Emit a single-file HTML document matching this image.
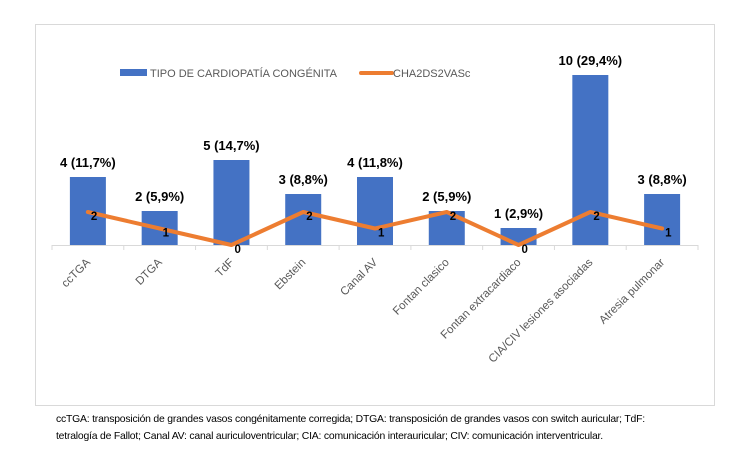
<!DOCTYPE html>
<html><head><meta charset="utf-8"><style>
body{margin:0;background:#fff;width:750px;height:469px;overflow:hidden;font-family:"Liberation Sans",sans-serif}
.cap{position:absolute;left:56px;top:411px;font-size:10.4px;color:#000;line-height:17px;width:680px;letter-spacing:-0.2px;white-space:nowrap}
</style></head><body>
<svg width="750" height="469" style="position:absolute;left:0;top:0" id="svg">
<rect x="35.5" y="24.5" width="679" height="381" fill="#fff" stroke="#d9d9d9"/>
<g>
<rect x="120" y="69" width="27" height="7" fill="#4472c4"/>
<text x="150" y="77" font-size="11" fill="#595959">TIPO DE CARDIOPATÍA CONGÉNITA</text>
<line x1="361" y1="73" x2="392" y2="73" stroke="#ed7d31" stroke-width="4" stroke-linecap="round"/>
<text x="393" y="77" font-size="11" fill="#595959">CHA2DS2VASc</text>
</g>
</svg>
<div class="cap">ccTGA: transposición de grandes vasos congénitamente corregida; DTGA: transposición de grandes vasos con switch auricular; TdF:<br>tetralogía de Fallot; Canal AV: canal auriculoventricular; CIA: comunicación interauricular; CIV: comunicación interventricular.</div>
<script>
const categories=["ccTGA","DTGA","TdF","Ebstein","Canal AV","Fontan clasico","Fontan extracardiaco","CIA/CIV lesiones asociadas","Atresia pulmonar"];
const barValues=[4,2,5,3,4,2,1,10,3];
const barLabels=["4 (11,7%)","2 (5,9%)","5 (14,7%)","3 (8,8%)","4 (11,8%)","2 (5,9%)","1 (2,9%)","10 (29,4%)","3 (8,8%)"];
const lineValues=[2,1,0,2,1,2,0,2,1];
const NS="http://www.w3.org/2000/svg";
const svg=document.getElementById('svg');
const x0=52,x1=698,base=245;
const step=(x1-x0)/categories.length;
const xc=i=>x0+step*(i+0.5);
const yb=v=>base-v*17;
const yl=v=>base-v*16.5;
function mk(t,a){const e=document.createElementNS(NS,t);for(const k in a)e.setAttribute(k,a[k]);svg.appendChild(e);return e;}
let ax=mk('line',{x1:x0,y1:base+0.5,x2:x1,y2:base+0.5,stroke:'#d9d9d9'});


for(let i=0;i<=categories.length;i++){
 let t=mk('line',{x1:x0+step*i,y1:base,x2:x0+step*i,y2:base+5,stroke:'#d9d9d9'});
 
 
}
barValues.forEach((v,i)=>{
 let r=mk('rect',{x:xc(i)-18,y:yb(v),width:36,height:base-yb(v),fill:'#4472c4'});
 
 
 let t=mk('text',{x:xc(i),y:yb(v)-10,'text-anchor':'middle','font-size':'13','font-weight':'bold',fill:'#000'});
 t.textContent=barLabels[i];
 
 
 const lx=xc(i)+3,ly=base+18;
 let c=mk('text',{x:lx,y:ly,'text-anchor':'end','font-size':'11.5',fill:'#595959',transform:`rotate(-45 ${lx} ${ly})`});
 c.textContent=categories[i];
 
 
});
let pts=lineValues.map((v,i)=>xc(i)+','+yl(v)).join(' ');
let pl=mk('polyline',{points:pts,fill:'none',stroke:'#ed7d31','stroke-width':'4','stroke-linejoin':'round','stroke-linecap':'round'});


lineValues.forEach((v,i)=>{
 let t=mk('text',{x:xc(i)+3,y:yl(v)+8,'font-size':'11.5','font-weight':'bold',fill:'#000'});
 t.textContent=v;
 
 
});
</script>
</body></html>
